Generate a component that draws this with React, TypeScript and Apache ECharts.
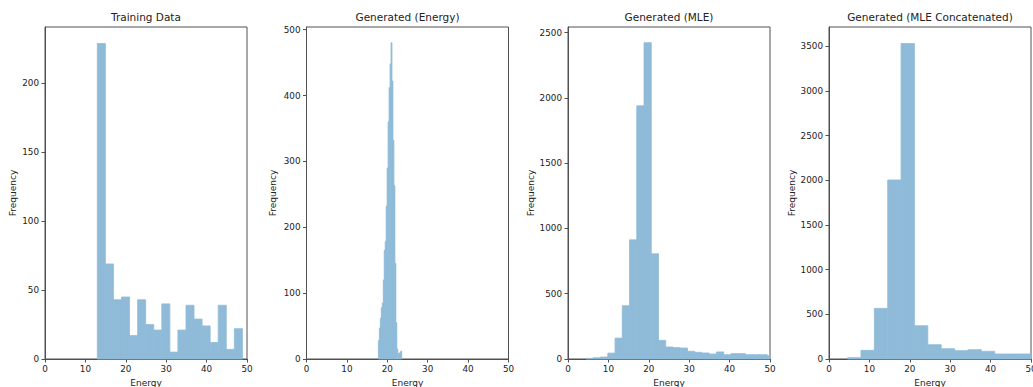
import React, { useEffect, useRef } from "react";
import * as echarts from "echarts";

// ---------- Data (histograms: bin start, bin width, counts) ----------
const titles = ["Training Data", "Generated (Energy)", "Generated (MLE)", "Generated (MLE Concatenated)"];

const trainingStart = 12.95;
const trainingWidth = 1.995;
const trainingCounts = [229, 69, 43, 45, 17, 43, 25, 21, 40, 5, 21, 39, 29, 24, 12, 39, 7, 22];

const energyStart = 17.8;
const energyWidth = 0.24;
const energyCounts = [28, 47, 62, 78, 85, 120, 165, 178, 232, 290, 360, 412, 448, 480, 422, 332, 263, 145, 55, 15, 8, 8, 10, 12];

const mleStart = 4.47;
const mleWidth = 1.793;
const mleCounts = [5, 10, 15, 45, 160, 408, 913, 1939, 2423, 806, 143, 92, 87, 84, 59, 51, 46, 38, 54, 33, 41, 41, 33, 33, 33, 25];

const concatStart = 4.6;
const concatWidth = 3.31;
const concatCounts = [15, 97, 566, 2003, 3530, 372, 160, 115, 93, 104, 86, 56, 56, 56];

const xTicks = [0, 10, 20, 30, 40, 50];
const yTicks1 = [0, 50, 100, 150, 200];
const yTicks2 = [0, 100, 200, 300, 400, 500];
const yTicks3 = [0, 500, 1000, 1500, 2000, 2500];
const yTicks4 = [0, 500, 1000, 1500, 2000, 2500, 3000, 3500];
const yMax = [241, 504, 2543, 3715];

const xLabel = "Energy";
const yLabel = "Frequency";

const BAR_COLOR = "#8fbbd9";
const TEXT_COLOR = "#222";
const LINE_COLOR = "#505050";
const FONT = "DejaVu Sans";

function toBins(start: number, width: number, counts: number[]) {
  return counts.map((c, i) => [start + i * width, start + (i + 1) * width, c]);
}

const panels = [
  { bins: toBins(trainingStart, trainingWidth, trainingCounts), yTicks: yTicks1, nameGap: 28 },
  { bins: toBins(energyStart, energyWidth, energyCounts), yTicks: yTicks2, nameGap: 29 },
  { bins: toBins(mleStart, mleWidth, mleCounts), yTicks: yTicks3, nameGap: 33 },
  { bins: toBins(concatStart, concatWidth, concatCounts), yTicks: yTicks4, nameGap: 33 },
];

const gridLefts = [45, 306.5, 568, 829];
const gridWidth = 202;
const gridTop = 27;
const gridHeight = 332;

export default function App() {
  const ref = useRef<HTMLDivElement>(null);
  useEffect(() => {
    if (!ref.current) return;
    const chart = echarts.init(ref.current, undefined, { renderer: "svg" });
    const option: any = {
      animation: false,
      backgroundColor: "#ffffff",
      textStyle: { fontFamily: FONT, color: TEXT_COLOR },
      title: titles.map((t, i) => ({
        text: t,
        left: gridLefts[i] + gridWidth / 2,
        top: 11,
        textAlign: "center",
        padding: 0,
        textStyle: { fontFamily: FONT, fontSize: 10.5, fontWeight: "normal", color: TEXT_COLOR },
      })),
      grid: gridLefts.map((l) => ({
        left: l,
        top: gridTop,
        width: gridWidth,
        height: gridHeight,
        show: true,
        borderColor: LINE_COLOR,
        borderWidth: 1,
        backgroundColor: "transparent",
        containLabel: false,
        outerBoundsMode: "none",
      })),
      xAxis: panels.map((_, i) => ({
        type: "value",
        gridIndex: i,
        min: 0,
        max: 50,
        interval: 10,
        name: xLabel,
        nameLocation: "middle",
        nameGap: 19,
        nameTextStyle: { fontFamily: FONT, fontSize: 9, color: TEXT_COLOR },
        splitLine: { show: false },
        axisLine: { show: true, onZero: false, lineStyle: { color: LINE_COLOR, width: 1 } },
        axisTick: { show: true, inside: false, length: 3.5, lineStyle: { color: LINE_COLOR }, customValues: xTicks },
        axisLabel: {
          show: true, margin: 5, fontSize: 8.8, color: TEXT_COLOR, fontFamily: FONT, customValues: xTicks,
          formatter: (v: number) => String(v),
        },
      })),
      yAxis: panels.map((p, i) => ({
        type: "value",
        gridIndex: i,
        min: 0,
        max: yMax[i],
        name: yLabel,
        nameLocation: "middle",
        nameRotate: 90,
        nameGap: p.nameGap,
        nameTextStyle: { fontFamily: FONT, fontSize: 9, color: TEXT_COLOR },
        splitLine: { show: false },
        axisLine: { show: true, onZero: false, lineStyle: { color: LINE_COLOR, width: 1 } },
        axisTick: { show: true, inside: false, length: 3.5, lineStyle: { color: LINE_COLOR }, customValues: p.yTicks },
        axisLabel: {
          show: true, margin: 6, fontSize: 8.8, color: TEXT_COLOR, fontFamily: FONT, customValues: p.yTicks,
          formatter: (v: number) => String(v),
        },
      })),
      series: panels.map((p, i) => ({
        type: "custom",
        xAxisIndex: i,
        yAxisIndex: i,
        encode: { x: [0, 1], y: 2 },
        data: p.bins,
        renderItem: (params: any, api: any) => {
          const x0 = api.value(0);
          const x1 = api.value(1);
          const c = api.value(2);
          const pTop = api.coord([x0, c]);
          const pBot = api.coord([x1, 0]);
          const shape = echarts.graphic.clipRectByRect(
            { x: pTop[0], y: pTop[1], width: pBot[0] - pTop[0], height: pBot[1] - pTop[1] },
            { x: params.coordSys.x, y: params.coordSys.y, width: params.coordSys.width, height: params.coordSys.height }
          );
          if (!shape) return null;
          return {
            type: "rect",
            shape,
            style: { fill: BAR_COLOR, stroke: BAR_COLOR, lineWidth: 0.8 },
          };
        },
      })),
    };
    chart.setOption(option);
    return () => chart.dispose();
  }, []);
  return <div ref={ref} style={{ position: "absolute", left: 0, top: 0, width: 1033, height: 387 }} />;
}
